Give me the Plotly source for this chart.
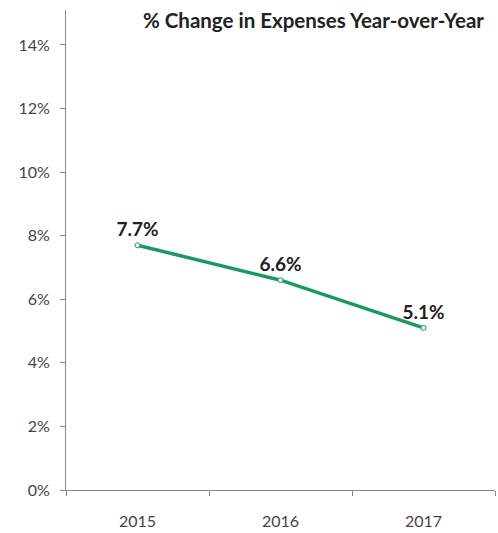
import plotly.graph_objects as go

years = ["2015", "2016", "2017"]
pct_change = [7.7, 6.6, 5.1]
value_labels = ["7.7%", "6.6%", "5.1%"]
y_ticks = [0, 2, 4, 6, 8, 10, 12, 14]
y_tick_labels = ["0%", "2%", "4%", "6%", "8%", "10%", "12%", "14%"]

fig = go.Figure()
fig.add_trace(go.Scatter(
    x=years, y=pct_change, mode="lines+markers+text",
    text=value_labels, textposition="top center",
    textfont=dict(family="Lato", size=19, color="#222", weight="bold"),
    line=dict(color="#1c9a5e", width=3.5),
    marker=dict(size=5, color="#e8f5ee", line=dict(color="#1c9a5e", width=1)),
    cliponaxis=False,
))

fig.update_layout(
    width=498, height=533,
    margin=dict(l=66, r=3, t=10, b=43),
    paper_bgcolor="white", plot_bgcolor="white",
    showlegend=False,
    font=dict(family="Lato", size=16, color="#444"),
    annotations=[dict(
        text="<b>% Change in Expenses Year-over-Year</b>",
        x=(313 - 66) / 429, xref="paper", y=1, yref="paper", yanchor="middle",
        yshift=-10,
        showarrow=False, font=dict(family="Lato", size=20.5, color="#222"),
    )],
)
fig.update_xaxes(
    showline=True, linecolor="#888", linewidth=1,
    ticks="outside", ticklen=5, tickcolor="#888",
    tickson="boundaries", showgrid=False, zeroline=False,
    range=[-0.5, 2.5], automargin=False, ticklabelstandoff=17,
)
fig.update_yaxes(
    range=[0, 15.1], tickvals=y_ticks, ticktext=y_tick_labels,
    showline=True, linecolor="#888", linewidth=1,
    ticks="outside", ticklen=5, tickcolor="#888",
    showgrid=False, zeroline=False, ticklabelstandoff=7, automargin=False,
)

fig.write_html("out.html", config={"displayModeBar": False},
               post_script="document.body.style.margin='0';")
